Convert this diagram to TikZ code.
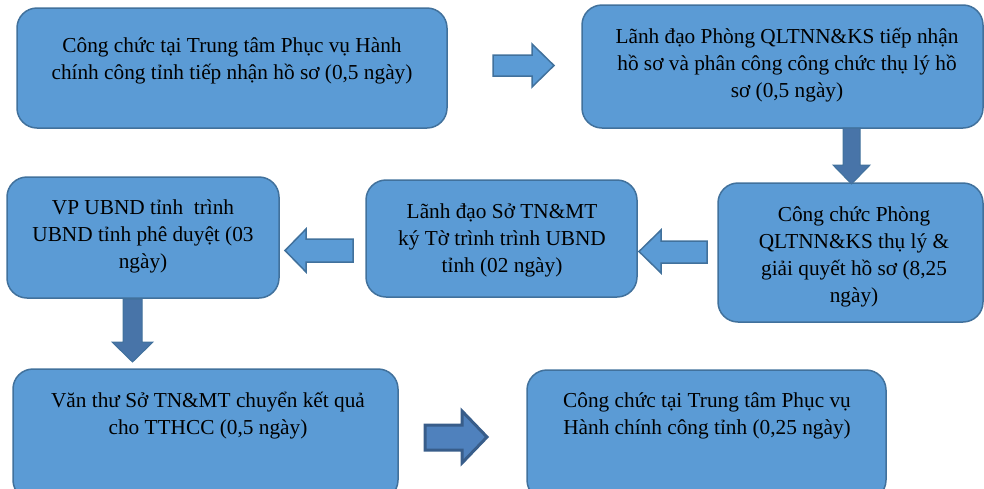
\documentclass[tikz,border=0pt]{standalone}
\usepackage{fontspec}
\setmainfont{Liberation Serif}
\definecolor{boxfill}{HTML}{5B9BD5}
\definecolor{boxline}{HTML}{41719C}
\definecolor{downfill}{HTML}{4874A8}
\definecolor{darkfill}{HTML}{4F81BD}
\definecolor{darkline}{HTML}{385D8A}
\begin{document}
\begin{tikzpicture}[x=1pt,y=-1pt,
  procbox/.style={draw=boxline, fill=boxfill, line width=1.5pt, rounded corners=20pt, inner sep=0pt},
  boxtext/.style={align=center, inner sep=0pt, font=\fontsize{21.3}{27}\selectfont},
  sidearrow/.style={draw=boxline, fill=boxfill, line width=1.5pt, line join=miter},
  downarrow/.style={draw=boxline, fill=downfill, line width=1pt, line join=miter},
  darkarrow/.style={draw=darkline, fill=darkfill, line width=3pt, line join=miter}]
\useasboundingbox (0,0) rectangle (984,488);
\begin{scope}
\clip (0,0) rectangle (984,488);
% boxes
\node[procbox, minimum width=430pt, minimum height=120pt] (b1) at (232,68) {};
\node[procbox, minimum width=401pt, minimum height=123pt] (b2) at (782.5,66.5) {};
\node[procbox, minimum width=265pt, minimum height=139pt] (b3) at (850.5,252.5) {};
\node[procbox, minimum width=271pt, minimum height=117pt] (b4) at (501.5,238.5) {};
\node[procbox, minimum width=272pt, minimum height=121pt] (b5) at (143,237.5) {};
\node[procbox, minimum width=385pt, minimum height=131pt] (b6) at (205.5,434.5) {};
\node[procbox, minimum width=359pt, minimum height=130pt] (b7) at (706.5,435) {};
% texts
\node[boxtext] (t1) at (232,61) {Công chức tại Trung tâm Phục vụ Hành\\chính công tỉnh tiếp nhận hồ sơ (0,5 ngày)};
\node[boxtext] (t2) at (787,65) {Lãnh đạo Phòng QLTNN\&KS tiếp nhận\\hồ sơ và phân công công chức thụ lý hồ\\sơ (0,5 ngày)};
\node[boxtext] (t3) at (854,257) {Công chức Phòng\\QLTNN\&KS thụ lý \&\\giải quyết hồ sơ (8,25\\ngày)};
\node[boxtext] (t4) at (502,240) {Lãnh đạo Sở TN\&MT\\ký Tờ trình trình UBND\\tỉnh (02 ngày)};
\node[boxtext] (t5) at (143,236) {VP UBND tỉnh\ \ trình\\UBND tỉnh phê duyệt (03\\ngày)};
\node[boxtext] (t6) at (208,416) {Văn thư Sở TN\&MT chuyển kết quả\\cho TTHCC (0,5 ngày)};
\node[boxtext] (t7) at (707,416) {Công chức tại Trung tâm Phục vụ\\Hành chính công tỉnh (0,25 ngày)};
\end{scope}
% arrows
\path[sidearrow] (493,55) -- (532,55) -- (532,44) -- (554,65.5) -- (532,87) -- (532,76) -- (493,76) -- cycle;
\path[downarrow] (843,128) -- (860,128) -- (860,165) -- (870,165) -- (851.5,184) -- (833,165) -- (843,165) -- cycle;
\path[sidearrow] (707,241) -- (661,241) -- (661,230) -- (639,251.5) -- (661,273) -- (661,263) -- (707,263) -- cycle;
\path[sidearrow] (353,239) -- (306,239) -- (306,229) -- (285,250.5) -- (306,272) -- (306,262) -- (353,262) -- cycle;
\path[downarrow] (123,299) -- (142,299) -- (142,342) -- (153,342) -- (132.5,362) -- (112,342) -- (123,342) -- cycle;
\path[darkarrow] (425,425) -- (462,425) -- (462,411) -- (487,437) -- (462,463) -- (462,450) -- (425,450) -- cycle;
\end{tikzpicture}
\end{document}
